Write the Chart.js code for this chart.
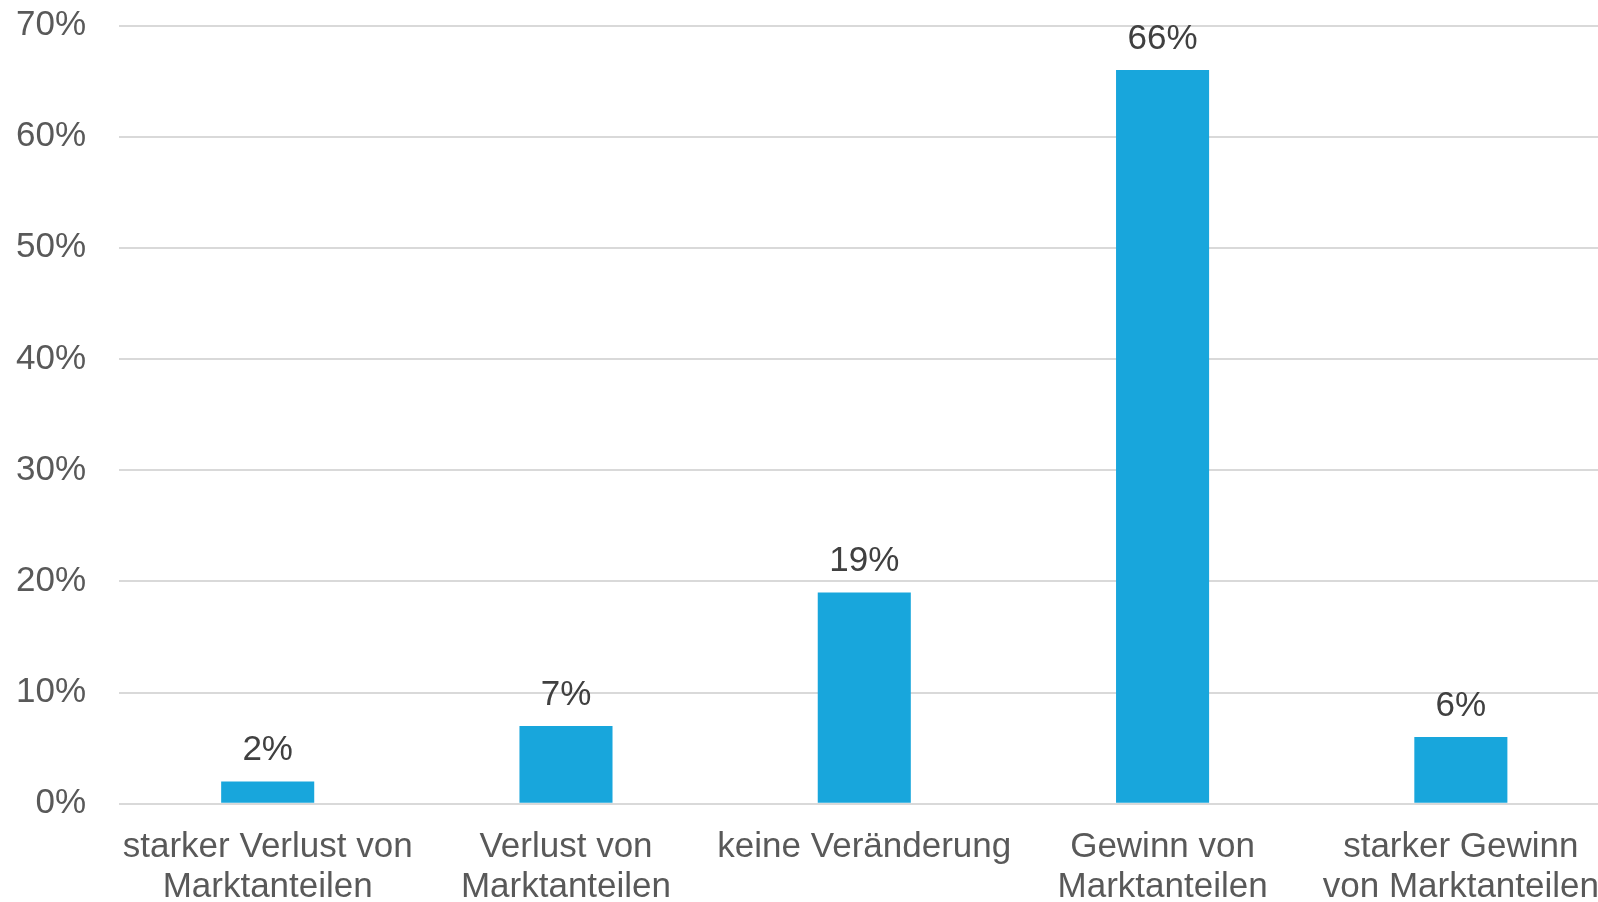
<!DOCTYPE html>
<html lang="de">
<head>
<meta charset="utf-8">
<title>Erwartete Entwicklung der Marktanteile</title>
<script src="https://cdn.jsdelivr.net/npm/chart.js@4/dist/chart.umd.min.js"></script>
<style>
  html, body { margin: 0; padding: 0; background: #ffffff; overflow: hidden; }
  #wrap { position: relative; width: 1610px; height: 907px; }
</style>
</head>
<body>
<div id="wrap"><canvas id="chart"></canvas></div>
<script>
// Categories (two-line labels) and their shares in percent
const categories = [
  ['starker Verlust von', 'Marktanteilen'],
  ['Verlust von', 'Marktanteilen'],
  ['keine Veränderung'],
  ['Gewinn von', 'Marktanteilen'],
  ['starker Gewinn', 'von Marktanteilen']
];
const shares = [2, 7, 19, 66, 6];
const yTicks = [0, 10, 20, 30, 40, 50, 60, 70];

const FONT = "'Liberation Sans', Arial, sans-serif";

// Writes each bar's value above it, positioned from the bar element itself
const valueLabels = {
  id: 'valueLabels',
  afterDatasetsDraw(chart) {
    const { ctx } = chart;
    const meta = chart.getDatasetMeta(0);
    ctx.save();
    ctx.font = '35px ' + FONT;
    ctx.fillStyle = '#404040';
    ctx.textAlign = 'center';
    ctx.textBaseline = 'alphabetic';
    meta.data.forEach((bar, i) => {
      ctx.fillText(shares[i] + '%', bar.x, bar.y - 21);
    });
    ctx.restore();
  }
};

new Chart(document.getElementById('chart'), {
  type: 'bar',
  data: {
    labels: categories,
    datasets: [{
      data: shares,
      backgroundColor: '#18A6DC',
      borderWidth: 0,
      barPercentage: 1,
      categoryPercentage: 0.312
    }]
  },
  options: {
    responsive: true,
    maintainAspectRatio: false,
    animation: false,
    devicePixelRatio: 1,
    layout: { padding: { top: 25.5, left: 16, right: 0, bottom: 0 } },
    plugins: {
      legend: { display: false },
      tooltip: { enabled: false }
    },
    scales: {
      x: {
        // invisible tick marks provide the gap between axis and labels
        grid: { display: true, drawOnChartArea: false, drawTicks: true, tickLength: 23.5, tickColor: 'rgba(0,0,0,0)' },
        border: { display: false },
        ticks: {
          color: '#595959',
          font: { family: FONT, size: 35, lineHeight: 1.14 },
          padding: 0,
          maxRotation: 0,
          autoSkip: false
        }
      },
      y: {
        min: 0,
        max: 70,
        afterBuildTicks(axis) {
          axis.ticks = yTicks.map(v => ({ value: v }));
        },
        grid: { color: '#D9D9D9', lineWidth: 2, drawTicks: true, tickLength: 32.5, tickColor: 'rgba(0,0,0,0)' },
        border: { display: false },
        ticks: {
          color: '#595959',
          font: { family: FONT, size: 35, lineHeight: 1.2 },
          padding: 0,
          callback: v => v + '%'
        }
      }
    }
  },
  plugins: [valueLabels]
});
</script>
</body>
</html>
